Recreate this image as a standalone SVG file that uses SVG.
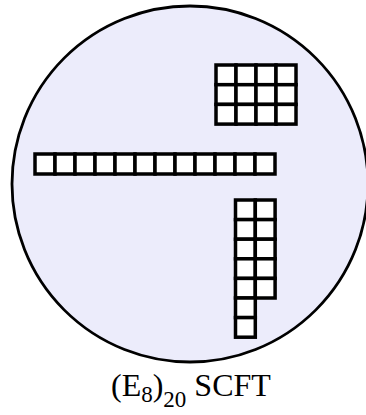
<svg xmlns="http://www.w3.org/2000/svg" width="366" height="415" viewBox="0 0 366 415">
<style>
.bg{fill:#ffffff}
.disk{fill:#ececfb;stroke:#000;stroke-width:2.8}
.box{fill:#ffffff;stroke:#000;stroke-width:3.5}
.lbl{font-family:"Liberation Serif","Times New Roman",serif;fill:#000}
</style>
<rect class="bg" x="0" y="0" width="366" height="415"/>
<g id="disk"><circle class="disk" cx="190" cy="184" r="178"/></g>
<g id="young-4x3">
<rect class="box" x="216" y="65" width="20" height="19.7"/>
<rect class="box" x="236" y="65" width="20" height="19.7"/>
<rect class="box" x="256" y="65" width="20" height="19.7"/>
<rect class="box" x="276" y="65" width="20" height="19.7"/>
<rect class="box" x="216" y="84.7" width="20" height="19.7"/>
<rect class="box" x="236" y="84.7" width="20" height="19.7"/>
<rect class="box" x="256" y="84.7" width="20" height="19.7"/>
<rect class="box" x="276" y="84.7" width="20" height="19.7"/>
<rect class="box" x="216" y="104.4" width="20" height="19.7"/>
<rect class="box" x="236" y="104.4" width="20" height="19.7"/>
<rect class="box" x="256" y="104.4" width="20" height="19.7"/>
<rect class="box" x="276" y="104.4" width="20" height="19.7"/>
</g>
<g id="young-row12">
<rect class="box" x="35" y="154" width="20" height="20"/>
<rect class="box" x="55" y="154" width="20" height="20"/>
<rect class="box" x="75" y="154" width="20" height="20"/>
<rect class="box" x="95" y="154" width="20" height="20"/>
<rect class="box" x="115" y="154" width="20" height="20"/>
<rect class="box" x="135" y="154" width="20" height="20"/>
<rect class="box" x="155" y="154" width="20" height="20"/>
<rect class="box" x="175" y="154" width="20" height="20"/>
<rect class="box" x="195" y="154" width="20" height="20"/>
<rect class="box" x="215" y="154" width="20" height="20"/>
<rect class="box" x="235" y="154" width="20" height="20"/>
<rect class="box" x="255" y="154" width="20" height="20"/>
</g>
<g id="young-column">
<rect class="box" x="235.5" y="200" width="19.8" height="19.6"/>
<rect class="box" x="255.3" y="200" width="19.8" height="19.6"/>
<rect class="box" x="235.5" y="219.6" width="19.8" height="19.6"/>
<rect class="box" x="255.3" y="219.6" width="19.8" height="19.6"/>
<rect class="box" x="235.5" y="239.2" width="19.8" height="19.6"/>
<rect class="box" x="255.3" y="239.2" width="19.8" height="19.6"/>
<rect class="box" x="235.5" y="258.8" width="19.8" height="19.6"/>
<rect class="box" x="255.3" y="258.8" width="19.8" height="19.6"/>
<rect class="box" x="235.5" y="278.4" width="19.8" height="19.6"/>
<rect class="box" x="255.3" y="278.4" width="19.8" height="19.6"/>
<rect class="box" x="235.5" y="298" width="19.8" height="19.6"/>
<rect class="box" x="235.5" y="317.6" width="19.8" height="19.6"/>
</g>
<g id="label">
<text class="lbl" x="111" y="396" font-size="32">(E<tspan font-size="23" dy="6">8</tspan><tspan dy="-6">)</tspan><tspan font-size="23" dy="11">20</tspan><tspan dy="-11"> SCFT</tspan></text>
</g>
</svg>
